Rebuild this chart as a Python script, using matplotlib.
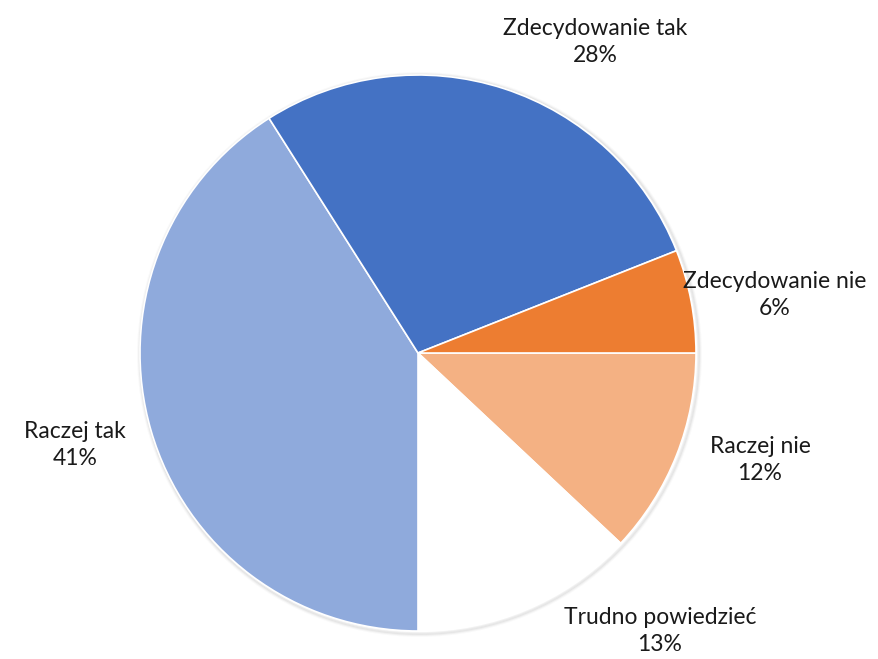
import matplotlib
matplotlib.use("Agg")
import matplotlib.pyplot as plt
from matplotlib.patches import Circle

categories = ["Raczej nie", "Trudno powiedzieć", "Raczej tak", "Zdecydowanie tak", "Zdecydowanie nie"]
values = [12, 13, 41, 28, 6]
colors = ["#F4B183", "#FFFFFF", "#8FAADC", "#4472C4", "#ED7D31"]
# label centers (pixels from top-left) - layout only
label_pos = [(760, 460), (660, 631), (75, 445), (595, 42), (775, 295)]

W, H = 879, 659
fig = plt.figure(figsize=(W / 100, H / 100), dpi=100)
ax = fig.add_axes([0, 0, 1, 1])

cx, cy, r = 418, H - 353, 278

# soft shadow
for i, a in enumerate([0.04, 0.07, 0.10]):
    ax.add_patch(Circle((cx + 1.5, cy - 1.5), r + 3 - i, facecolor="none",
                        edgecolor="#7f7f7f", alpha=a, lw=2, zorder=0))

ax.pie(values, colors=colors, startangle=0, counterclock=False,
       center=(cx, cy), radius=r, frame=True,
       wedgeprops=dict(edgecolor="white", linewidth=1.2))
ax.set_xlim(0, W)
ax.set_ylim(0, H)
ax.set_aspect("equal")
ax.axis("off")

for cat, v, (x, y) in zip(categories, values, label_pos):
    ax.text(x, H - y, f"{cat}\n{v}%", ha="center", va="center",
            fontsize=16.5, family=["Lato", "DejaVu Sans"], color="#1a1a1a",
            linespacing=1.4)

fig.savefig("out.png", dpi=100)
